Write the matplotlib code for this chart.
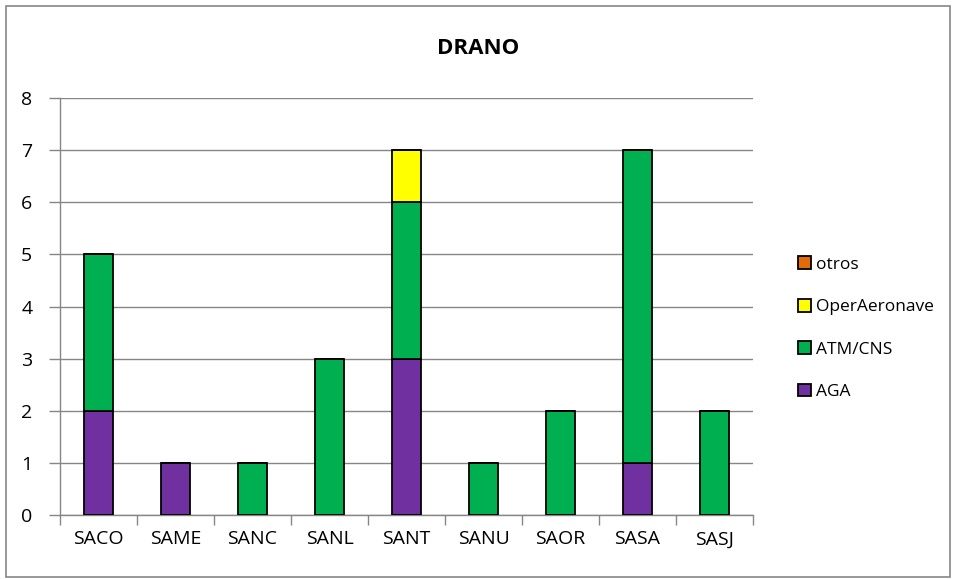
import numpy as np
import matplotlib
matplotlib.use('Agg')
import matplotlib.pyplot as plt
from matplotlib.patches import Rectangle

plt.rcParams['font.family'] = ['Open Sans', 'DejaVu Sans']

cats = ['SACO', 'SAME', 'SANC', 'SANL', 'SANT', 'SANU', 'SAOR', 'SASA', 'SASJ']
aga = [2, 1, 0, 0, 3, 0, 0, 1, 0]
atm = [3, 0, 1, 3, 3, 1, 2, 6, 2]
oper = [0, 0, 0, 0, 1, 0, 0, 0, 0]
otros = [0, 0, 0, 0, 0, 0, 0, 0, 0]

series = [('AGA', aga, '#7030A0'), ('ATM/CNS', atm, '#00B050'),
          ('OperAeronave', oper, '#FFFF00'), ('otros', otros, '#E36C09')]

fig = plt.figure(figsize=(9.56, 5.79), dpi=100)
ax = fig.add_axes([0.0628, 0.1105, 0.7249, 0.7202])

x = np.arange(len(cats))
bottom = np.zeros(len(cats))
handles = []
for name, vals, c in series:
    vals = np.array(vals, dtype=float)
    h = ax.bar(x, vals, 0.38, bottom=bottom, color=c, edgecolor='black',
               linewidth=1.3, label=name, zorder=3)
    handles.append(h)
    bottom += vals

ax.set_xlim(-0.5, len(cats) - 0.5)
ax.set_ylim(0, 8)
ax.set_yticks(range(0, 9))
ax.yaxis.grid(True, color='#868686', linewidth=1, zorder=0)
ax.set_xticks(x)
ax.set_xticklabels(cats, fontsize=14)
ax.tick_params(axis='x', length=0, pad=11)
ax.set_xticks(np.arange(-0.5, len(cats)), minor=True)
ax.tick_params(axis='x', which='minor', length=7, color='#868686', width=1)
ax.tick_params(axis='y', labelsize=14, length=8, color='#868686', width=1, pad=12)
for s in ['top', 'right']:
    ax.spines[s].set_visible(False)
for s in ['left', 'bottom']:
    ax.spines[s].set_color('#868686')
    ax.spines[s].set_linewidth(1)

fig.text(0.5, 0.917, 'DRANO', ha='center', va='center', fontsize=16, fontweight='bold')

leg = fig.legend(handles=handles[::-1], labels=[s[0] for s in series][::-1],
                 loc='center left', bbox_to_anchor=(0.818, 0.433), frameon=False,
                 fontsize=12.5, handlelength=0.75, handleheight=0.75,
                 labelspacing=1.5, handletextpad=0.3)

fig.patches.append(Rectangle((0.006, 0.003), 0.988, 0.987, transform=fig.transFigure,
                             fill=False, edgecolor='#868686', linewidth=1.2))

fig.savefig('out.png', dpi=100)
